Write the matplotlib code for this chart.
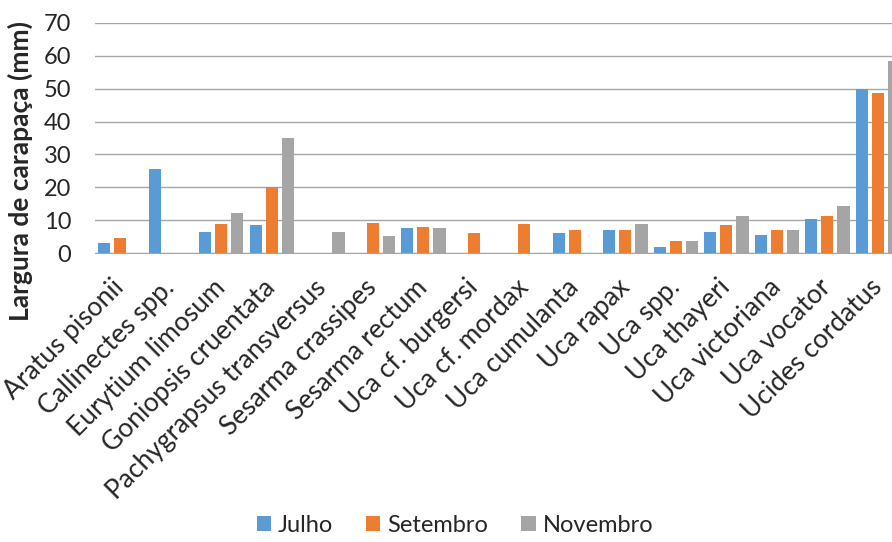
import numpy as np
import matplotlib.pyplot as plt

especies = ["Aratus pisonii", "Callinectes spp.", "Eurytium limosum",
            "Goniopsis cruentata", "Pachygrapsus transversus",
            "Sesarma crassipes", "Sesarma rectum", "Uca cf. burgersi",
            "Uca cf. mordax", "Uca cumulanta", "Uca rapax", "Uca spp.",
            "Uca thayeri", "Uca victoriana", "Uca vocator", "Ucides cordatus"]

julho = [3.0, 25.5, 6.5, 8.5, 0, 0, 7.5, 0, 0, 6.0, 7.0, 2.0, 6.5, 5.5, 10.3, 50.0]
setembro = [4.6, 0, 9.0, 20.0, 0, 9.3, 8.0, 6.0, 8.9, 7.0, 7.0, 3.6, 8.4, 7.0, 11.3, 48.8]
novembro = [0, 0, 12.3, 34.9, 6.5, 5.2, 7.5, 0, 0, 0, 9.0, 3.6, 11.3, 7.0, 14.2, 58.4]

series = [("Julho", julho, "#5B9BD5"),
          ("Setembro", setembro, "#ED7D31"),
          ("Novembro", novembro, "#A5A5A5")]

plt.rcParams['font.family'] = ['Lato', 'DejaVu Sans']

fig = plt.figure(figsize=(8.92, 5.42), dpi=100)
ax = fig.add_axes([0.1065, 0.533, 0.906, 0.4246])

x = np.arange(len(especies))
width = 0.24
step = 0.32
for i, (nome, vals, cor) in enumerate(series):
    ax.bar(x + (i - 1) * step, vals, width, color=cor, label=nome, zorder=3)

ax.set_xlim(-0.5, len(especies) - 0.5)
ax.set_ylim(0, 70)
ax.set_yticks(range(0, 71, 10))
ax.grid(axis='y', color='#a6a6a6', linewidth=1.0, zorder=0)
for s in ['top', 'right', 'left']:
    ax.spines[s].set_visible(False)
ax.spines['bottom'].set_color('#a6a6a6')
ax.tick_params(axis='both', length=0)
ax.tick_params(axis='y', labelsize=17, colors='#262626', pad=17)
ax.set_xticks(x)
ax.set_xticklabels(especies, rotation=45, ha='right', va='center',
                   rotation_mode='anchor', fontsize=19, color='#262626')
ax.tick_params(axis='x', pad=22)
ax.set_ylabel("Largura de carapaça (mm)", fontsize=19, fontweight='bold',
              color='#262626', ha='center', va='center')
ax.yaxis.set_label_coords(-0.092, 0.356)

fig.legend(loc='center', bbox_to_anchor=(0.51, 0.031), ncol=3, frameon=False,
           fontsize=17, handlelength=0.6, handleheight=0.6,
           handletextpad=0.3, columnspacing=1.4, labelcolor='#262626')

plt.savefig("out.png", dpi=100)
